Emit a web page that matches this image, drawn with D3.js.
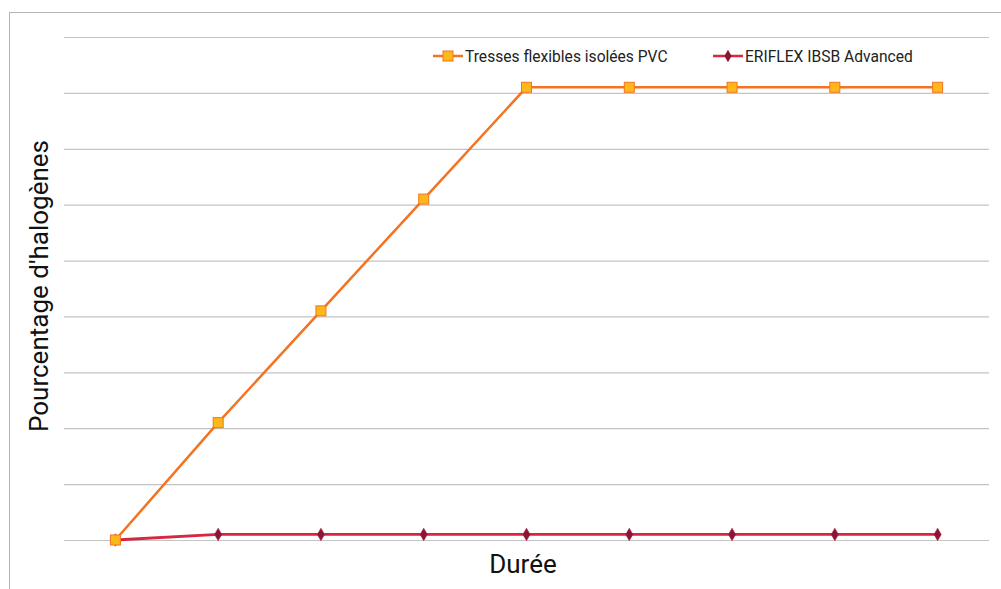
<!DOCTYPE html>
<html><head><meta charset="utf-8">
<script src="https://cdn.jsdelivr.net/npm/d3@7"></script>
<style>body{margin:0;background:#fff;font-family:Roboto,sans-serif;}</style>
</head><body>
<svg id="c" width="1001" height="589"></svg>
<script>
const categories = ["1","2","3","4","5","6","7","8","9"];
const pvcValues = [0, 2.1, 4.1, 6.1, 8.1, 8.1, 8.1, 8.1, 8.1];
const eriflexValues = [0, 0.1, 0.1, 0.1, 0.1, 0.1, 0.1, 0.1, 0.1];
const yTicks = [0,1,2,3,4,5,6,7,8,9];
const seriesNames = ["Tresses flexibles isolées PVC", "ERIFLEX IBSB Advanced"];

const svg = d3.select("#c");
svg.append("rect").attr("x",9.5).attr("y",12.5).attr("width",1000).attr("height",600)
  .attr("fill","#fff").attr("stroke","#b4b4b4").attr("stroke-width",1);

const x = d3.scaleBand().domain(categories).range([64,989]);
const y = d3.scaleLinear().domain([0,9]).range([540,37]);

const grid = svg.append("g").attr("transform","translate(64,0)")
  .call(d3.axisLeft(y).tickValues(yTicks).tickSize(-925).tickFormat(""));
grid.select(".domain").remove();
grid.selectAll(".tick line").attr("stroke","#c4c4c4").attr("stroke-width",1.2);

const cx = d => x(d) + x.bandwidth()/2;

function drawSeries(vals, color, width) {
  svg.append("path").datum(vals)
    .attr("fill","none").attr("stroke",color).attr("stroke-width",width)
    .attr("d", d3.line().x((d,i)=>cx(categories[i])).y(d=>y(d)));
}
drawSeries(eriflexValues, "#d7263d", 2.8);
drawSeries(pvcValues, "#f47321", 2.5);

const diamond = d3.symbol().type(d3.symbolDiamond).size(45);
svg.append("g").selectAll("path").data(eriflexValues).join("path")
  .attr("transform",(d,i)=>`translate(${cx(categories[i])},${y(d)})`)
  .attr("d",diamond).attr("fill","#8a1538").attr("stroke","#b01c3a").attr("stroke-width",0.6);

svg.append("g").selectAll("rect").data(pvcValues).join("rect")
  .attr("x",(d,i)=>cx(categories[i])-5).attr("y",d=>y(d)-5)
  .attr("width",10).attr("height",10)
  .attr("fill","#ffb819").attr("stroke","#f47321").attr("stroke-width",1);

// Legend
const lg = svg.append("g");
lg.append("line").attr("x1",433).attr("x2",463).attr("y1",56).attr("y2",56).attr("stroke","#f47321").attr("stroke-width",2.5);
lg.append("rect").attr("x",443).attr("y",51).attr("width",10).attr("height",10).attr("fill","#ffb819").attr("stroke","#f47321");
lg.append("text").attr("x",465).attr("y",62).attr("font-size",15.6).attr("fill","#222").text(seriesNames[0]);
lg.append("line").attr("x1",713).attr("x2",743).attr("y1",56).attr("y2",56).attr("stroke","#d7263d").attr("stroke-width",2.5);
lg.append("path").attr("transform","translate(728,56)").attr("d",diamond).attr("fill","#8a1538");
lg.append("text").attr("x",745).attr("y",62).attr("font-size",15.6).attr("fill","#222").text(seriesNames[1]);

// Axis titles
svg.append("text").attr("x",523).attr("y",573).attr("text-anchor","middle").attr("font-size",26).attr("fill","#111").text("Durée");
svg.append("text").attr("transform","translate(48,286) rotate(-90)").attr("text-anchor","middle").attr("font-size",26).attr("fill","#111").text("Pourcentage d'halogènes");
</script>
</body></html>
